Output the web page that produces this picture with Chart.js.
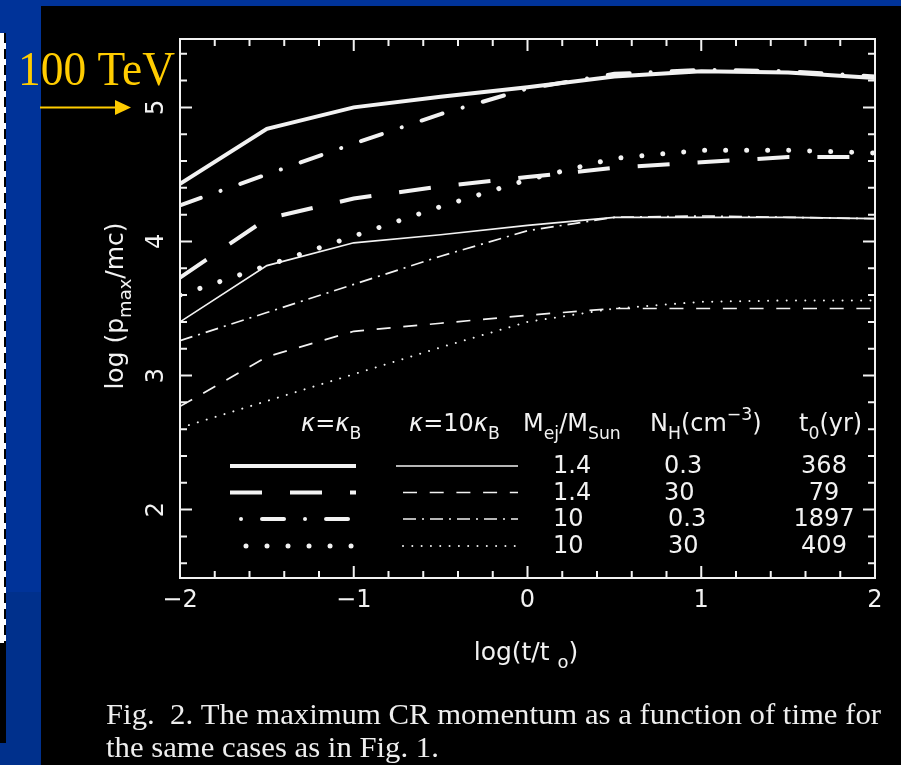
<!DOCTYPE html>
<html>
<head>
<meta charset="utf-8">
<script src="https://cdn.jsdelivr.net/npm/chart.js@4/dist/chart.umd.min.js"></script>
<style>
  html, body { margin: 0; padding: 0; background: #003399; }
  canvas { display: block; }
</style>
</head>
<body>
<canvas id="chart" width="901" height="765"></canvas>
<script>
'use strict';

// log(t/t0) sample points
const logT = [-2, -1.5, -1, -0.5, 0, 0.5, 1, 1.5, 2];

// log(p_max/mc) for kappa = kappa_B  (Mej/Msun, NH)
const kB_m14_n03 = [4.43, 4.84, 5.00, 5.08, 5.15, 5.23, 5.27, 5.26, 5.22];
const kB_m14_n30 = [3.73, 4.17, 4.32, 4.41, 4.48, 4.55, 4.59, 4.63, 4.63];
const kB_m10_n03 = [4.27, 4.50, 4.73, 4.95, 5.14, 5.25, 5.28, 5.27, 5.23];
const kB_m10_n30 = [3.60, 3.82, 4.04, 4.26, 4.46, 4.62, 4.68, 4.68, 4.66];

// log(p_max/mc) for kappa = 10 kappa_B
const k10_m14_n03 = [3.40, 3.82, 3.99, 4.05, 4.12, 4.18, 4.18, 4.18, 4.17];
const k10_m14_n30 = [2.77, 3.14, 3.33, 3.39, 3.45, 3.50, 3.50, 3.50, 3.50];
const k10_m10_n03 = [3.26, 3.47, 3.68, 3.89, 4.08, 4.18, 4.19, 4.18, 4.17];
const k10_m10_n30 = [2.61, 2.81, 3.01, 3.21, 3.40, 3.50, 3.55, 3.56, 3.56];

const xMajorTicks = [-2, -1, 0, 1, 2];
const yMajorTicks = [2, 3, 4, 5];

// legend table
const legendMej = ['1.4', '1.4', '10', '10'];
const legendNH = ['0.3', '30', '0.3', '30'];
const legendT0 = ['368', '79', '1897', '409'];

const INK = '#f2f2f2';
const GOLD = '#ffcc00';
const FIG_FONT = '"DejaVu Sans"';

function pts(ys) {
  return logT.map((x, i) => ({ x, y: ys[i] }));
}

function isMajor(v, list) {
  return list.some(m => Math.abs(m - v) < 1e-6);
}

function line(label, ys, width, dash, cap) {
  return {
    label,
    data: pts(ys),
    borderColor: INK,
    borderWidth: width,
    borderDash: dash,
    borderCapStyle: cap || 'butt',
    pointRadius: 0,
    tension: 0,
    fill: false,
  };
}

// rich text: runs of [text, 'sub'|'sup'|'', italic]
function richWidth(ctx, runs, size) {
  let w = 0;
  runs.forEach(([t, k, it]) => {
    const s = k ? size * 0.72 : size;
    ctx.font = `${it ? 'italic ' : ''}${s}px ${FIG_FONT}`;
    w += ctx.measureText(t).width;
  });
  return w;
}

function drawRich(ctx, runs, x, y, size, align) {
  let cx = x;
  if (align === 'center') cx = x - richWidth(ctx, runs, size) / 2;
  ctx.textAlign = 'left';
  ctx.textBaseline = 'alphabetic';
  runs.forEach(([t, k, it]) => {
    const s = k ? size * 0.72 : size;
    ctx.font = `${it ? 'italic ' : ''}${s}px ${FIG_FONT}`;
    const dy = k === 'sub' ? size * 0.33 : k === 'sup' ? -size * 0.45 : 0;
    ctx.fillText(t, cx, y + dy);
    cx += ctx.measureText(t).width;
  });
}

function stretchText(ctx, text, x, y, font, width) {
  ctx.font = font;
  const natural = ctx.measureText(text).width;
  ctx.save();
  ctx.translate(x, y);
  ctx.scale(width / natural, 1);
  ctx.textAlign = 'left';
  ctx.textBaseline = 'alphabetic';
  ctx.fillText(text, 0, 0);
  ctx.restore();
}

const slidePlugin = {
  id: 'slide',
  beforeDraw(chart) {
    const { ctx } = chart;
    ctx.save();
    ctx.fillStyle = '#003399';
    ctx.fillRect(0, 0, 901, 765);
    ctx.fillStyle = '#00308c';
    ctx.fillRect(0, 592, 41, 173);
    ctx.fillStyle = '#000';
    ctx.fillRect(41, 6, 860, 759);
    // left strip remnant
    ctx.fillStyle = '#fff';
    ctx.fillRect(0, 33, 6, 610);
    ctx.fillStyle = '#000';
    ctx.fillRect(0, 643, 6, 100);
    ctx.strokeStyle = '#000';
    ctx.lineWidth = 2;
    ctx.setLineDash([10, 6]);
    ctx.beginPath();
    ctx.moveTo(5, 33); ctx.lineTo(5, 643);
    ctx.stroke();
    ctx.restore();
  },
};

const framePlugin = {
  id: 'frame',
  afterDatasetsDraw(chart) {
    const { ctx, chartArea: a, scales: { x, y } } = chart;
    ctx.save();
    ctx.strokeStyle = INK;
    ctx.lineWidth = 2;
    ctx.strokeRect(a.left, a.top, a.right - a.left, a.bottom - a.top);

    ctx.beginPath();
    x.ticks.forEach(t => {
      const px = x.getPixelForValue(t.value);
      const len = isMajor(t.value, xMajorTicks) ? 12 : 7;
      ctx.moveTo(px, a.bottom); ctx.lineTo(px, a.bottom - len);
      ctx.moveTo(px, a.top); ctx.lineTo(px, a.top + len);
    });
    y.ticks.forEach(t => {
      const py = y.getPixelForValue(t.value);
      const len = isMajor(t.value, yMajorTicks) ? 12 : 7;
      ctx.moveTo(a.left, py); ctx.lineTo(a.left + len, py);
      ctx.moveTo(a.right, py); ctx.lineTo(a.right - len, py);
    });
    ctx.stroke();

    // y tick labels, rotated
    ctx.fillStyle = INK;
    ctx.font = `24px ${FIG_FONT}`;
    ctx.textAlign = 'center';
    ctx.textBaseline = 'alphabetic';
    yMajorTicks.forEach(v => {
      ctx.save();
      ctx.translate(a.left - 17, y.getPixelForValue(v));
      ctx.rotate(-Math.PI / 2);
      ctx.fillText(String(v), 0, 0);
      ctx.restore();
    });

    // axis titles
    ctx.save();
    ctx.translate(123, 306);
    ctx.rotate(-Math.PI / 2);
    drawRich(ctx, [['log (p'], ['max', 'sub'], ['/mc)']], 0, 0, 25, 'center');
    ctx.restore();
    drawRich(ctx, [['log(t/t '], ['o', 'sub'], [')']], 526, 660, 25, 'center');

    // legend
    const rowY = [466, 492.5, 519, 546];
    const headY = 431;
    drawRich(ctx, [['\u03ba', '', true], ['='], ['\u03ba', '', true], ['B', 'sub']], 301, headY, 24);
    drawRich(ctx, [['\u03ba', '', true], ['=10'], ['\u03ba', '', true], ['B', 'sub']], 409, headY, 24);
    drawRich(ctx, [['M'], ['ej', 'sub'], ['/M'], ['Sun', 'sub']], 523, headY, 24);
    drawRich(ctx, [['N'], ['H', 'sub'], ['(cm'], ['\u22123', 'sup'], [')']], 650, headY, 24);
    drawRich(ctx, [['t'], ['0', 'sub'], ['(yr)']], 799, headY, 24);

    const sets = chart.data.datasets;
    const thickStart = [230, 230, 241, 246];
    const thickOffset = [0, 0, 43, 0];
    rowY.forEach((ry, i) => {
      const thick = sets[i];
      const thin = sets[i + 4];
      ctx.lineWidth = thick.borderWidth;
      ctx.lineCap = thick.borderCapStyle;
      ctx.setLineDash(thick.borderDash);
      ctx.lineDashOffset = thickOffset[i];
      ctx.beginPath();
      ctx.moveTo(thickStart[i], ry); ctx.lineTo(356, ry);
      ctx.stroke();

      ctx.lineWidth = thin.borderWidth;
      ctx.lineCap = thin.borderCapStyle;
      ctx.setLineDash(thin.borderDash);
      ctx.lineDashOffset = 0;
      ctx.beginPath();
      ctx.moveTo(i === 0 ? 396 : 403, ry); ctx.lineTo(518, ry);
      ctx.stroke();
      ctx.setLineDash([]);

      ctx.font = `24px ${FIG_FONT}`;
      ctx.textBaseline = 'alphabetic';
      ctx.textAlign = 'left';
      ctx.fillText(legendMej[i], 553, ry + 7);
      ctx.fillText(legendNH[i], i < 2 ? 664 : 668, ry + 7);
      ctx.textAlign = 'center';
      ctx.fillText(legendT0[i], 824, ry + 7);
    });
    ctx.restore();
  },
  afterDraw(chart) {
    const { ctx } = chart;
    ctx.save();
    // caption
    ctx.fillStyle = '#eeeeee';
    stretchText(ctx, 'Fig.  2. The maximum CR momentum as a function of time for', 106, 724,
      '30px "Liberation Serif"', 775);
    ctx.font = '30px "Liberation Serif"';
    const sx = 775 / ctx.measureText('Fig.  2. The maximum CR momentum as a function of time for').width;
    const w2 = ctx.measureText('the same cases as in Fig. 1.').width * sx;
    stretchText(ctx, 'the same cases as in Fig. 1.', 106, 757, '30px "Liberation Serif"', w2);

    // 100 TeV marker
    ctx.fillStyle = GOLD;
    stretchText(ctx, '100 TeV', 18, 85, '49px "Liberation Serif"', 157);
    ctx.strokeStyle = GOLD;
    ctx.lineWidth = 2;
    ctx.beginPath();
    ctx.moveTo(40, 107.5); ctx.lineTo(118, 107.5);
    ctx.stroke();
    ctx.beginPath();
    ctx.moveTo(115, 100); ctx.lineTo(131, 107.5); ctx.lineTo(115, 115);
    ctx.closePath();
    ctx.fill();
    ctx.restore();
  },
};

new Chart(document.getElementById('chart'), {
  type: 'line',
  data: {
    datasets: [
      line('\u03ba=\u03baB, 1.4, 0.3', kB_m14_n03, 4, []),
      line('\u03ba=\u03baB, 1.4, 30', kB_m14_n30, 4, [32, 28]),
      line('\u03ba=\u03baB, 10, 0.3', kB_m10_n03, 4, [22, 21, 0.01, 21], 'round'),
      line('\u03ba=\u03baB, 10, 30', kB_m10_n30, 5, [0.01, 21], 'round'),
      line('\u03ba=10\u03baB, 1.4, 0.3', k10_m14_n03, 1.7, []),
      line('\u03ba=10\u03baB, 1.4, 30', k10_m14_n30, 1.7, [14, 12.7]),
      line('\u03ba=10\u03baB, 10, 0.3', k10_m10_n03, 1.7, [13, 6, 2, 6]),
      line('\u03ba=10\u03baB, 10, 30', k10_m10_n30, 2, [0.01, 9.3], 'round'),
    ],
  },
  options: {
    responsive: false,
    animation: false,
    devicePixelRatio: 1,
    layout: { padding: { left: 100, right: 26, top: 39, bottom: 147 } },
    plugins: {
      legend: { display: false },
      tooltip: { enabled: false },
    },
    scales: {
      x: {
        type: 'linear',
        min: -2,
        max: 2,
        afterFit: (s) => { s.height = 40; },
        grid: { display: false, drawTicks: false },
        border: { display: false },
        ticks: {
          stepSize: 0.2,
          autoSkip: false,
          maxRotation: 0,
          padding: 8,
          color: INK,
          font: { family: 'DejaVu Sans', size: 24 },
          callback: (v) => isMajor(v, xMajorTicks) ? String(Math.round(v)).replace('-', '\u2212') : '',
        },
      },
      y: {
        type: 'linear',
        min: 1.49,
        max: 5.51,
        afterFit: (s) => { s.width = 80; },
        grid: { display: false, drawTicks: false },
        border: { display: false },
        ticks: { stepSize: 0.2, includeBounds: false, display: false },
      },
    },
  },
  plugins: [slidePlugin, framePlugin],
});
</script>
</body>
</html>
